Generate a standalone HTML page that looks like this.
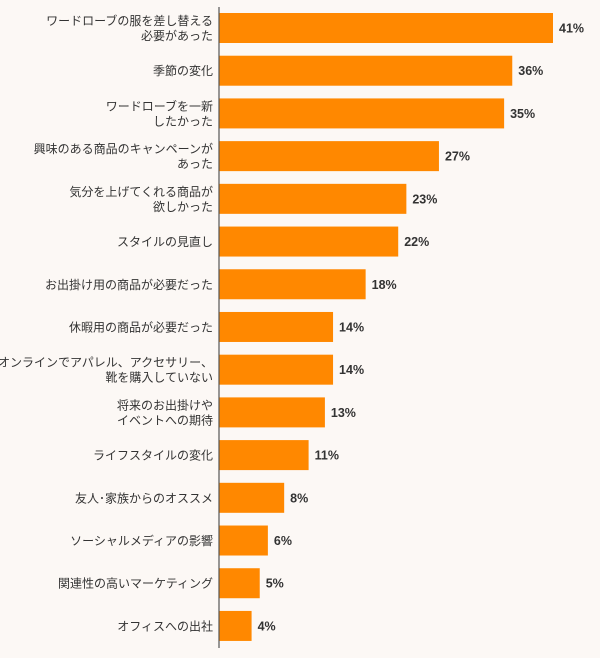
<!DOCTYPE html>
<html><head><meta charset="utf-8"><style>
body{margin:0;background:#fcf8f5;}
svg{display:block;font-family:"Liberation Sans","Noto Sans CJK JP",sans-serif;}
</style></head><body>
<svg width="600" height="658" id="c">
<rect width="600" height="658" fill="#fcf8f5"/>
</svg>
<script>
const categories=[["ワードローブの服を差し替える","必要があった"],["季節の変化"],["ワードローブを一新","したかった"],["興味のある商品のキャンペーンが","あった"],["気分を上げてくれる商品が","欲しかった"],["スタイルの見直し"],["お出掛け用の商品が必要だった"],["休暇用の商品が必要だった"],["オンラインでアパレル、アクセサリー、","靴を購入していない"],["将来のお出掛けや","イベントへの期待"],["ライフスタイルの変化"],["友人･家族からのオススメ"],["ソーシャルメディアの影響"],["関連性の高いマーケティング"],["オフィスへの出社"]];
const values=[41,36,35,27,23,22,18,14,14,13,11,8,6,5,4];
const valueLabels=values.map(v=>v+"%");
const svg=document.getElementById('c');
const NS="http://www.w3.org/2000/svg";
const x0=219, pxPer=(553-219)/41, top0=13, step=42.71, bh=30;
const xs=v=>x0+v*pxPer;
const ys=i=>top0+i*step;
values.forEach((v,i)=>{
  const r=document.createElementNS(NS,'rect');
  
  
  r.setAttribute('x',x0);r.setAttribute('y',ys(i));
  r.setAttribute('width',xs(v)-x0);r.setAttribute('height',bh);
  r.setAttribute('fill','#ff8800');
  svg.appendChild(r);
  const t=document.createElementNS(NS,'text');
  
  
  t.setAttribute('x',xs(v)+6);t.setAttribute('y',ys(i)+bh/2+4.5);
  t.setAttribute('font-size','12.5');t.setAttribute('font-weight','bold');t.setAttribute('fill','#333');
  t.textContent=valueLabels[i];
  svg.appendChild(t);
  const lines=categories[i];
  lines.forEach((ln,j)=>{
    const c=document.createElementNS(NS,'text');
    
    
    const cy=ys(i)+bh/2+4.5+(j-(lines.length-1)/2)*15;
    c.setAttribute('x',213);c.setAttribute('y',cy);
    c.setAttribute('text-anchor','end');c.setAttribute('font-size','12');c.setAttribute('fill','#333');
    c.textContent=ln;
    svg.appendChild(c);
  });
});
const ax=document.createElementNS(NS,'line');


ax.setAttribute('x1',x0);ax.setAttribute('x2',x0);ax.setAttribute('y1',7);ax.setAttribute('y2',648);
ax.setAttribute('stroke','#555');ax.setAttribute('stroke-width','1.2');
svg.appendChild(ax);
</script>
</body></html>
